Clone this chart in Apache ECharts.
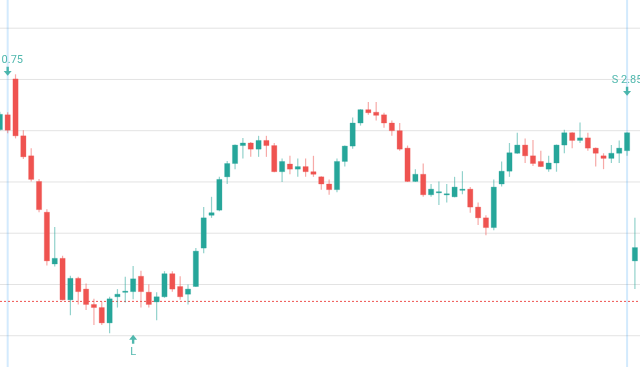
<!DOCTYPE html>
<html>
<head>
<meta charset="utf-8">
<script src="https://cdn.jsdelivr.net/npm/echarts@6/dist/echarts.min.js"></script>
<style>
  html, body { margin: 0; padding: 0; background: #ffffff; }
  #chart { width: 640px; height: 367px; }
</style>
</head>
<body>
<div id="chart"></div>
<script>
// ---- data (bar index 0 is the partly visible bar at the left edge) ----
const opens  = [4.02,4.31,5.01,3.90,3.51,3.01,2.41,1.40,1.51,0.70,1.12,0.91,0.61,0.55,0.25,0.76,0.85,0.86,1.16,0.85,0.66,0.76,1.21,0.96,0.81,0.96,1.71,2.35,2.45,3.10,3.36,3.71,3.76,3.64,3.81,3.71,3.20,3.35,3.25,3.30,3.20,3.10,2.96,2.85,3.40,3.70,4.15,4.41,4.36,4.31,4.15,4.00,3.66,3.01,3.15,2.75,2.80,2.76,2.71,2.85,2.86,2.51,2.30,2.11,2.96,3.21,3.56,3.72,3.51,3.40,3.25,3.37,3.72,3.96,3.81,3.86,3.66,3.51,3.46,3.56,3.61,1.46];
const closes = [4.32,4.01,3.90,3.49,3.05,2.46,1.46,1.51,0.70,1.12,0.86,0.61,0.55,0.25,0.72,0.81,0.87,1.11,0.86,0.61,0.76,1.21,0.91,0.76,0.91,1.65,2.30,2.40,3.05,3.36,3.72,3.76,3.64,3.81,3.71,3.20,3.40,3.25,3.30,3.20,3.15,2.96,2.85,3.40,3.70,4.15,4.41,4.35,4.30,4.15,4.00,3.64,3.01,3.15,2.75,2.86,2.81,2.77,2.90,2.86,2.51,2.30,2.11,2.90,3.21,3.57,3.72,3.51,3.36,3.30,3.37,3.72,3.96,3.81,3.86,3.66,3.56,3.46,3.56,3.66,3.96,1.72];
const highs  = [4.37,4.36,5.10,4.01,3.66,3.06,2.47,2.12,1.56,1.17,1.15,1.02,0.72,0.66,0.76,0.91,1.15,1.36,1.27,1.00,0.85,1.26,1.26,1.16,1.00,1.71,2.51,2.71,3.10,3.41,3.73,3.86,3.78,3.90,3.90,3.76,3.46,3.51,3.46,3.46,3.51,3.11,3.05,3.46,3.71,4.26,4.42,4.56,4.56,4.35,4.20,4.15,3.71,3.25,3.36,2.96,3.01,2.96,3.10,3.21,2.90,2.60,2.35,3.05,3.40,3.76,3.96,3.85,3.82,3.61,3.51,3.73,4.02,3.97,4.16,3.96,3.67,3.56,3.72,3.81,3.97,2.30];
const lows   = [4.00,3.95,3.85,3.45,3.01,2.41,1.37,1.35,0.69,0.40,0.61,0.50,0.21,0.21,0.05,0.55,0.65,0.71,0.55,0.55,0.30,0.74,0.86,0.70,0.61,0.95,1.61,2.30,2.43,2.96,3.25,3.46,3.49,3.49,3.49,3.19,3.00,3.15,3.10,3.10,3.10,2.85,2.75,2.80,3.30,3.65,4.10,4.31,4.20,4.06,3.90,3.61,3.00,3.00,2.71,2.71,2.55,2.60,2.70,2.76,2.40,2.16,1.96,2.06,2.91,3.10,3.55,3.37,3.31,3.29,3.20,3.20,3.56,3.66,3.76,3.61,3.30,3.25,3.37,3.37,3.51,0.91];

const gridLevels = [0, 1, 2, 3, 4, 5, 6];
const priceLine = 0.67;
const markerBars  = [1, 80, 17];
const markerTexts = ['S 0.75', 'S 2.85', 'L'];
const markerSides = ['above', 'above', 'below'];

// ---- view range ----
const X_MIN = 0.02, X_MAX = 81.65, Y_MIN = -0.61, Y_MAX = 6.55;

// ---- styles ----
const GREEN = '#26a69a', RED = '#ef5350';
const GREEN_W = 'rgba(38,166,154,0.5)', RED_W = 'rgba(239,83,80,0.5)';

const candleData = opens.map((o, i) => [i, o, closes[i], lows[i], highs[i]]);

function renderCandle(params, api) {
  const x = api.value(0), o = api.value(1), c = api.value(2), l = api.value(3), h = api.value(4);
  const pO = api.coord([x, o]), pC = api.coord([x, c]);
  const pL = api.coord([x, l]), pH = api.coord([x, h]);
  const up = c >= o;
  const col = up ? GREEN : RED;
  const wick = up ? GREEN_W : RED_W;
  const bw = 5.2;
  const top = Math.min(pO[1], pC[1]);
  const ht = Math.max(1.2, Math.abs(pO[1] - pC[1]));
  return {
    type: 'group',
    children: [
      { type: 'line', shape: { x1: pH[0], y1: pH[1], x2: pL[0], y2: pL[1] }, style: { stroke: wick, lineWidth: 1.2 } },
      { type: 'rect', shape: { x: pO[0] - bw / 2, y: top, width: bw, height: ht }, style: { fill: col, stroke: wick, lineWidth: 0.6 } }
    ]
  };
}

const ARROW_DOWN = 'path://M2.8,0 L5.2,0 L5.2,4.2 L8,4.2 L4,9 L0,4.2 L2.8,4.2 Z';
const ARROW_UP   = 'path://M4,0 L8,4.8 L5.2,4.8 L5.2,9 L2.8,9 L2.8,4.8 L0,4.8 Z';

const arrowData = markerBars.map((b, k) => {
  const above = markerSides[k] === 'above';
  return {
    value: [b, above ? highs[b] : lows[b]],
    symbol: above ? ARROW_DOWN : ARROW_UP,
    symbolOffset: [0, above ? -41 : 40]
  };
});
const labelData = markerBars.map((b, k) => {
  const above = markerSides[k] === 'above';
  return {
    value: [b, above ? highs[b] : lows[b]],
    label: { offset: [0, above ? -52 : 53], formatter: markerTexts[k] }
  };
});

function hLine(v, style, z) {
  return { type: 'line', z: z, data: [[X_MIN, v], [X_MAX, v]], symbol: 'none', showSymbol: false,
           silent: true, lineStyle: style, itemStyle: { color: style.color } };
}
function vLine(xv, style, z) {
  return { type: 'line', z: z, data: [[xv, Y_MIN], [xv, Y_MAX]], symbol: 'none', showSymbol: false,
           silent: true, lineStyle: style, itemStyle: { color: style.color } };
}

const series = [];
gridLevels.forEach(v => series.push(hLine(v, { color: '#e3e3e3', width: 1, type: 'solid' }, 1)));
markerBars.slice(0, 2).forEach(b => series.push(vLine(b, { color: 'rgba(33,150,243,0.2)', width: 2, type: 'solid' }, 2)));
series.push(hLine(priceLine, { color: RED, width: 1, type: [2, 2] }, 3));
series.push({
  type: 'custom', z: 5, renderItem: renderCandle, data: candleData,
  encode: { x: 0, y: [1, 2, 3, 4] }, clip: false
});
series.push({
  type: 'scatter', z: 6, data: arrowData, symbolSize: [8, 9],
  itemStyle: { color: GREEN }, silent: true
});
series.push({
  type: 'scatter', z: 6, data: labelData, symbolSize: 1,
  itemStyle: { color: 'rgba(0,0,0,0)' }, silent: true,
  label: { show: true, position: 'inside', color: GREEN, fontSize: 11, fontFamily: 'Roboto, sans-serif' }
});

const chart = echarts.init(document.getElementById('chart'), null, { renderer: 'canvas' });
chart.setOption({
  animation: false,
  backgroundColor: '#ffffff',
  grid: { left: 0, right: 0, top: 0, bottom: 0 },
  xAxis: { type: 'value', min: X_MIN, max: X_MAX, show: false, splitLine: { show: false } },
  yAxis: { type: 'value', min: Y_MIN, max: Y_MAX, show: false, splitLine: { show: false } },
  series: series
});
</script>
</body>
</html>
